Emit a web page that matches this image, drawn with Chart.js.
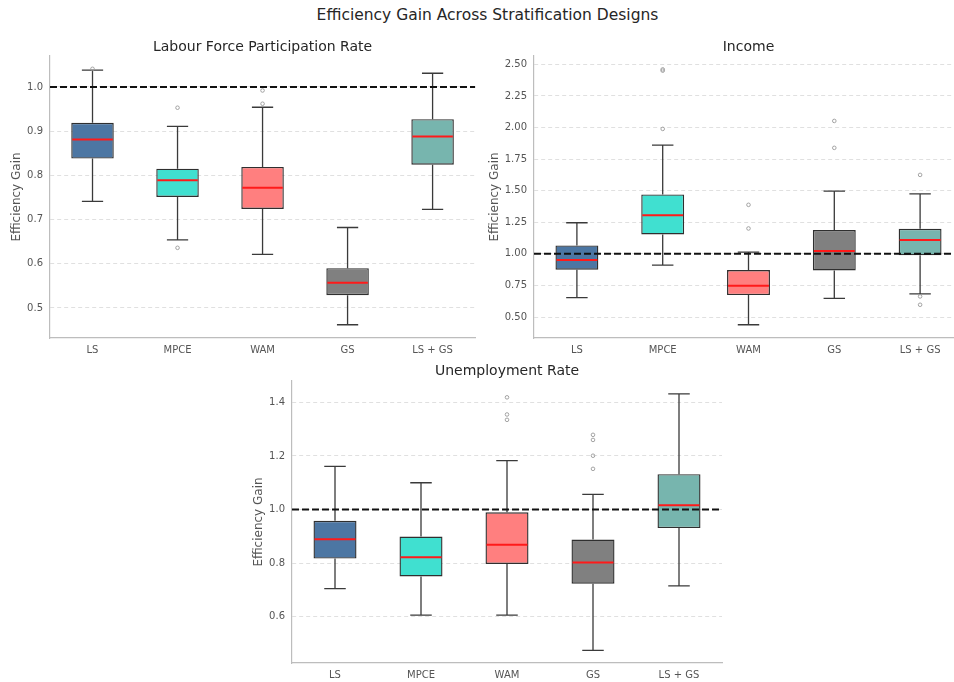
<!DOCTYPE html>
<html>
<head>
<meta charset="utf-8">
<script src="https://cdn.jsdelivr.net/npm/chart.js@4.4.1/dist/chart.umd.min.js"></script>
<style>
  html, body { margin: 0; padding: 0; background: #fff; }
  body { width: 954px; height: 682px; overflow: hidden; position: relative;
         font-family: "DejaVu Sans", sans-serif; }
  #suptitle { position: absolute; left: 0; top: 6px; width: 975px; text-align: center;
              font-size: 15.5px; line-height: 18px; color: #262626; }
  .panel { position: absolute; }
  .panel canvas { display: block; }
</style>
</head>
<body>
<div id="suptitle">Efficiency Gain Across Stratification Designs</div>
<div class="panel" style="left:0;top:30px;width:480px;height:330px"><canvas id="c1" width="480" height="330"></canvas></div>
<div class="panel" style="left:480px;top:30px;width:490px;height:330px"><canvas id="c2" width="490" height="330"></canvas></div>
<div class="panel" style="left:240px;top:360px;width:490px;height:322px"><canvas id="c3" width="490" height="322"></canvas></div>
<script>
/* ---------------- data ---------------- */
const CATEGORIES = ["LS", "MPCE", "WAM", "GS", "LS + GS"];

// Labour Force Participation Rate
const LFPR_LOW    = [0.741, 0.654, 0.621, 0.462, 0.723];
const LFPR_Q1     = [0.838, 0.751, 0.724, 0.529, 0.824];
const LFPR_MEDIAN = [0.881, 0.789, 0.772, 0.557, 0.888];
const LFPR_Q3     = [0.919, 0.815, 0.819, 0.590, 0.927];
const LFPR_HIGH   = [1.038, 0.911, 0.954, 0.682, 1.031];
const LFPR_OUTLIERS = [[1.041], [0.953, 0.636], [0.992, 0.962], [], []];
const LFPR_TICKS  = [0.5, 0.6, 0.7, 0.8, 0.9, 1.0];

// Income
const INC_LOW    = [0.653, 0.911, 0.439, 0.648, 0.684];
const INC_Q1     = [0.874, 1.153, 0.674, 0.869, 0.988];
const INC_MEDIAN = [0.951, 1.306, 0.748, 1.022, 1.109];
const INC_Q3     = [1.067, 1.470, 0.872, 1.188, 1.198];
const INC_HIGH   = [1.246, 1.860, 1.014, 1.496, 1.475];
const INC_OUTLIERS = [[], [2.460, 2.450, 1.989], [1.388, 1.201], [2.052, 1.839], [1.625, 0.663, 0.597]];
const INC_TICKS  = [0.5, 0.75, 1.0, 1.25, 1.5, 1.75, 2.0, 2.25, 2.5];

// Unemployment Rate
const UR_LOW    = [0.705, 0.606, 0.606, 0.474, 0.715];
const UR_Q1     = [0.817, 0.750, 0.797, 0.723, 0.931];
const UR_MEDIAN = [0.889, 0.822, 0.869, 0.802, 1.016];
const UR_Q3     = [0.958, 0.899, 0.990, 0.888, 1.132];
const UR_HIGH   = [1.161, 1.100, 1.183, 1.057, 1.432];
const UR_OUTLIERS = [[], [], [1.419, 1.355, 1.335], [1.279, 1.260, 1.201, 1.152], []];
const UR_TICKS  = [0.6, 0.8, 1.0, 1.2, 1.4];

const REFERENCE = 1.0;

/* ---------------- styling ---------------- */
const BOX_COLORS = ["#4C76A3", "#40E0D0", "#FF7F7F", "#808080", "#77B5AE"];
const FONT = '"DejaVu Sans", sans-serif';
const TEXT = "#555555";

/* Whiskers, caps, medians and the 1.0 reference line, all placed via the scales. */
const boxExtras = {
  id: "boxExtras",
  beforeDatasetsDraw(chart) {
    const st = chart.options.plugins.boxExtras;
    const y = chart.scales.y;
    const bars = chart.getDatasetMeta(0).data;
    const ctx = chart.ctx;
    ctx.save();
    ctx.strokeStyle = "#3a3a3a";
    ctx.lineWidth = 1.3;
    bars.forEach((bar, i) => {
      const cap = bar.width / 4;
      const pairs = [[st.q3[i], st.high[i]], [st.q1[i], st.low[i]]];
      pairs.forEach(([from, to]) => {
        const y0 = y.getPixelForValue(from), y1 = y.getPixelForValue(to);
        ctx.beginPath();
        ctx.moveTo(bar.x, y0); ctx.lineTo(bar.x, y1);
        ctx.moveTo(bar.x - cap, y1); ctx.lineTo(bar.x + cap, y1);
        ctx.stroke();
      });
    });
    ctx.restore();
  },
  afterDatasetsDraw(chart) {
    const st = chart.options.plugins.boxExtras;
    const y = chart.scales.y;
    const area = chart.chartArea;
    const bars = chart.getDatasetMeta(0).data;
    const ctx = chart.ctx;
    ctx.save();
    ctx.strokeStyle = "#ff1a1a";
    ctx.lineWidth = 2;
    bars.forEach((bar, i) => {
      const ym = y.getPixelForValue(st.median[i]);
      ctx.beginPath();
      ctx.moveTo(bar.x - bar.width / 2 + 1, ym);
      ctx.lineTo(bar.x + bar.width / 2 - 1, ym);
      ctx.stroke();
    });
    const yr = y.getPixelForValue(st.reference);
    ctx.strokeStyle = "#111";
    ctx.lineWidth = 2;
    ctx.setLineDash([7, 3]);
    ctx.beginPath();
    ctx.moveTo(area.left, yr); ctx.lineTo(area.right, yr);
    ctx.stroke();
    ctx.restore();
  },
};

function makeBoxChart(canvasId, cfg) {
  const outlierPts = [];
  cfg.outliers.forEach((vals, i) => vals.forEach(v => outlierPts.push({ x: CATEGORIES[i], y: v })));
  return new Chart(document.getElementById(canvasId), {
    type: "bar",
    data: {
      labels: CATEGORIES,
      datasets: [
        {
          data: cfg.q1.map((v, i) => [v, cfg.q3[i]]),
          backgroundColor: BOX_COLORS,
          borderColor: "#2f2f2f",
          borderWidth: 1.4,
          borderSkipped: false,
          barPercentage: 0.5,
          categoryPercentage: 1.0,
        },
        {
          type: "line",
          data: outlierPts,
          showLine: false,
          pointRadius: 1.8,
          pointBorderWidth: 0.9,
          pointBorderColor: "#9a9a9a",
          pointBackgroundColor: "rgba(0,0,0,0)",
        },
      ],
    },
    options: {
      responsive: false,
      animation: false,
      events: [],
      layout: { padding: { left: 0, right: cfg.padRight, top: 0, bottom: 0 } },
      plugins: {
        legend: { display: false },
        tooltip: { enabled: false },
        title: {
          display: true, text: cfg.title, color: "#262626", fullSize: false,
          font: { family: FONT, size: 14, weight: "normal" },
          padding: { top: cfg.titleTop, bottom: cfg.titleBottom },
        },
        boxExtras: {
          low: cfg.low, q1: cfg.q1, median: cfg.median, q3: cfg.q3, high: cfg.high,
          reference: REFERENCE,
        },
      },
      scales: {
        x: {
          offset: true,
          grid: { display: false, drawTicks: false },
          border: { display: true, color: "#bdbdbd", width: 1.2 },
          ticks: { color: TEXT, font: { family: FONT, size: 10 }, padding: 6, maxRotation: 0 },
          afterFit(scale) { scale.height = cfg.xHeight; },
        },
        y: {
          min: cfg.min, max: cfg.max,
          grid: { color: "#dcdcdc", lineWidth: 0.9, drawTicks: false },
          border: { display: true, color: "#bdbdbd", width: 1.2, dash: [4, 3] },
          ticks: {
            color: TEXT, font: { family: FONT, size: 10 }, padding: 7,
            callback: v => Number(v).toFixed(cfg.decimals),
          },
          afterBuildTicks(scale) { scale.ticks = cfg.ticks.map(v => ({ value: v })); },
          afterFit(scale) { scale.width = cfg.yWidth; },
          title: {
            display: true, text: "Efficiency Gain", color: TEXT,
            font: { family: FONT, size: 12 }, padding: { top: cfg.yTitlePad, bottom: 0 },
          },
        },
      },
    },
    plugins: [boxExtras],
  });
}

makeBoxChart("c1", {
  title: "Labour Force Participation Rate",
  low: LFPR_LOW, q1: LFPR_Q1, median: LFPR_MEDIAN, q3: LFPR_Q3, high: LFPR_HIGH,
  outliers: LFPR_OUTLIERS, ticks: LFPR_TICKS, decimals: 1,
  min: 0.432, max: 1.07,
  yWidth: 50, xHeight: 22, padRight: 2, titleTop: 9, titleBottom: 0.2, yTitlePad: 10,
});

makeBoxChart("c2", {
  title: "Income",
  low: INC_LOW, q1: INC_Q1, median: INC_MEDIAN, q3: INC_Q3, high: INC_HIGH,
  outliers: INC_OUTLIERS, ticks: INC_TICKS, decimals: 2,
  min: 0.334, max: 2.566,
  yWidth: 54, xHeight: 22, padRight: 7, titleTop: 9, titleBottom: 0.2, yTitlePad: 8,
});

makeBoxChart("c3", {
  title: "Unemployment Rate",
  low: UR_LOW, q1: UR_Q1, median: UR_MEDIAN, q3: UR_Q3, high: UR_HIGH,
  outliers: UR_OUTLIERS, ticks: UR_TICKS, decimals: 1,
  min: 0.427, max: 1.48,
  yWidth: 52, xHeight: 19, padRight: 8, titleTop: 3, titleBottom: 1.2, yTitlePad: 12,
});
</script>
</body>
</html>
